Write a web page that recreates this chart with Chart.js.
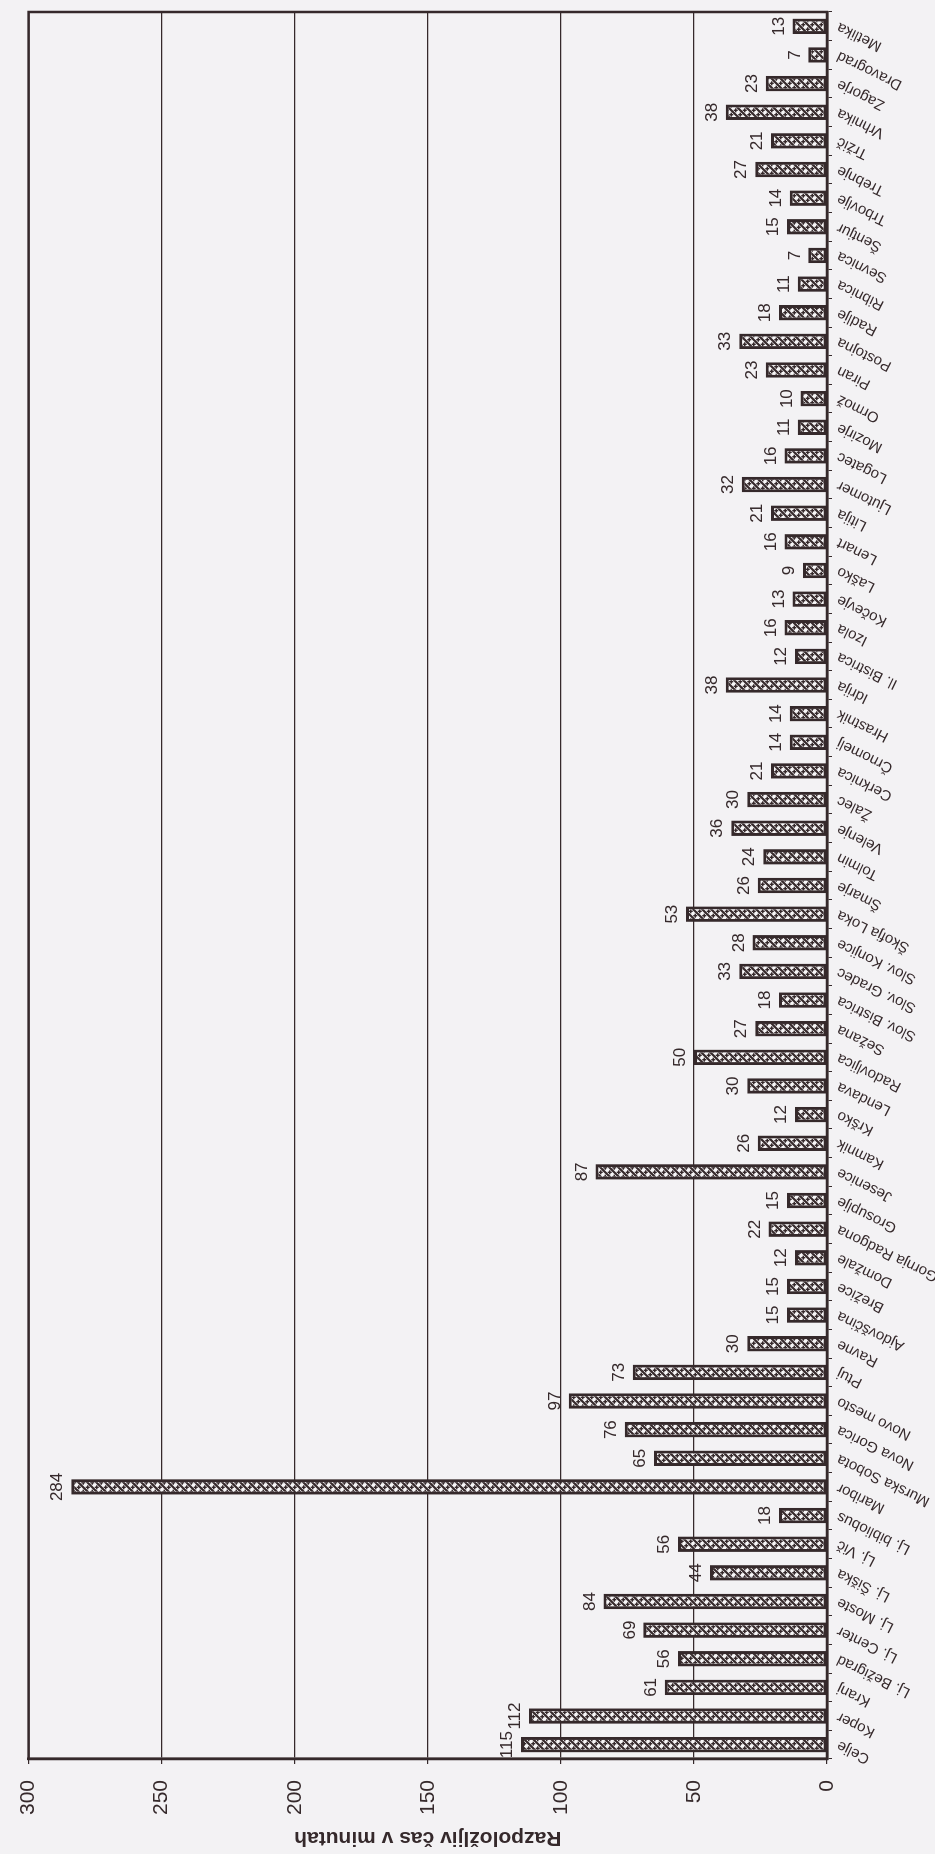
<!DOCTYPE html>
<html>
<head>
<meta charset="utf-8">
<title>Razpoložljiv čas v minutah</title>
<script src="https://cdn.jsdelivr.net/npm/chart.js@4.4.1/dist/chart.umd.min.js"></script>
<style>
  html, body { margin: 0; padding: 0; background: #f3f2f4; overflow: hidden; }
  /* the page is a scan turned on its side: draw the chart upright, then turn it */
  #wrap {
    position: absolute; left: 0; top: 0;
    width: 1854px; height: 935px;
    transform-origin: 0 0;
    transform: translateY(1854px) rotate(-90deg);
  }
</style>
</head>
<body>
<div id="wrap"><canvas id="myChart" width="1854" height="935"></canvas></div>
<script>
const categories = [
  "Celje", "Koper", "Kranj", "Lj. Bežigrad", "Lj. Center", "Lj. Moste", "Lj. Šiška", "Lj. Vič",
  "Lj. bibliobus", "Maribor", "Murska Sobota", "Nova Gorica", "Novo mesto", "Ptuj", "Ravne",
  "Ajdovščina", "Brežice", "Domžale", "Gornja Radgona", "Grosuplje", "Jesenice", "Kamnik", "Krško",
  "Lendava", "Radovljica", "Sežana", "Slov. Bistrica", "Slov. Gradec", "Slov. Konjice", "Škofja Loka",
  "Šmarje", "Tolmin", "Velenje", "Žalec",
  "Cerknica", "Črnomelj", "Hrastnik", "Idrija", "Il. Bistrica", "Izola", "Kočevje", "Laško", "Lenart",
  "Litija", "Ljutomer", "Logatec", "Mozirje", "Ormož", "Piran", "Postojna", "Radlje", "Ribnica",
  "Sevnica", "Šentjur", "Trbovlje", "Trebnje", "Tržič", "Vrhnika", "Zagorje", "Dravograd", "Metlika"
];

const minutes = [
  115, 112, 61, 56, 69, 84, 44, 56,
  18, 284, 65, 76, 97, 73, 30,
  15, 15, 12, 22, 15, 87, 26, 12,
  30, 50, 27, 18, 33, 28, 53,
  26, 24, 36, 30,
  21, 14, 14, 38, 12, 16, 13, 9, 16,
  21, 32, 16, 11, 10, 23, 33, 18, 11,
  7, 15, 14, 27, 21, 38, 23, 7, 13
];

const axisMin = 0;
const axisMax = 300;
const axisStep = 50;
const axisTitle = "Razpoložljiv čas v minutah";

const ink = "#35292b";
const family = "'Liberation Sans', Arial, sans-serif";

//hatch used to fill the bars: stripes with a small cross between them
function makeHatch() {
  const c = document.createElement("canvas");
  c.width = 9;
  c.height = 9;
  const g = c.getContext("2d");
  g.fillStyle = "#f7f6f7";
  g.fillRect(0, 0, 9, 9);
  g.strokeStyle = ink;
  g.lineWidth = 2.2;
  g.beginPath();
  g.moveTo(-2, 11); g.lineTo(11, -2);
  g.moveTo(-2, 2); g.lineTo(2, -2);
  g.moveTo(7, 11); g.lineTo(11, 7);
  g.stroke();
  g.lineWidth = 1.4;
  g.beginPath();
  g.moveTo(6.7, 4.7); g.lineTo(6.7, 8.7);
  g.moveTo(4.7, 6.7); g.lineTo(8.7, 6.7);
  g.moveTo(2.3, 0.3); g.lineTo(2.3, 4.3);
  g.moveTo(0.3, 2.3); g.lineTo(4.3, 2.3);
  g.stroke();
  return g.createPattern(c, "repeat");
}

const ctx = document.getElementById("myChart").getContext("2d");

//box round the plot
const frame = {
  id: "frame",
  beforeDatasetsDraw(chart) {
    const a = chart.chartArea;
    const g = chart.ctx;
    g.save();
    g.strokeStyle = ink;
    g.lineWidth = 2.5;
    g.strokeRect(a.left, a.top, a.right - a.left, a.bottom - a.top);
    g.restore();
  }
};

//number above each bar
const valueLabels = {
  id: "valueLabels",
  afterDatasetsDraw(chart) {
    const g = chart.ctx;
    const meta = chart.getDatasetMeta(0);
    g.save();
    g.font = "17px " + family;
    g.fillStyle = ink;
    g.textAlign = "center";
    g.textBaseline = "bottom";
    meta.data.forEach((bar, i) => {
      g.fillText(String(minutes[i]), bar.x, bar.y - 5);
    });
    g.restore();
  }
};

new Chart(ctx, {
  type: "bar",
  data: {
    labels: categories,
    datasets: [
      {
        data: minutes,
        backgroundColor: makeHatch(),
        borderColor: ink,
        borderWidth: 3,
        borderSkipped: false,
        barPercentage: 0.54,
        categoryPercentage: 1
      }
    ]
  },
  options: {
    responsive: false,
    animation: false,
    layout: { padding: { left: 0, right: 12, top: 17, bottom: 0 } },
    plugins: {
      legend: { display: false },
      tooltip: { enabled: false }
    },
    scales: {
      x: {
        ticks: {
          autoSkip: false,
          minRotation: 64,
          maxRotation: 64,
          color: ink,
          padding: 2,
          font: { family: family, size: 15 }
        },
        grid: { drawOnChartArea: false, tickLength: 5, color: ink, offset: true },
        border: { color: ink, width: 2.5 },
        afterFit(scale) { scale.height = 108; }
      },
      y: {
        min: axisMin,
        max: axisMax,
        ticks: {
          stepSize: axisStep,
          color: ink,
          padding: 16,
          font: { family: family, size: 21 }
        },
        grid: { color: ink, lineWidth: 1.2, tickLength: 5 },
        border: { color: ink, width: 2.5 },
        title: {
          display: true,
          text: axisTitle,
          color: ink,
          padding: { top: 4, bottom: 0 },
          font: { family: family, size: 21, weight: "bold" }
        },
        afterFit(scale) { scale.width = 95; }
      }
    }
  },
  plugins: [frame, valueLabels]
});
</script>
</body>
</html>
